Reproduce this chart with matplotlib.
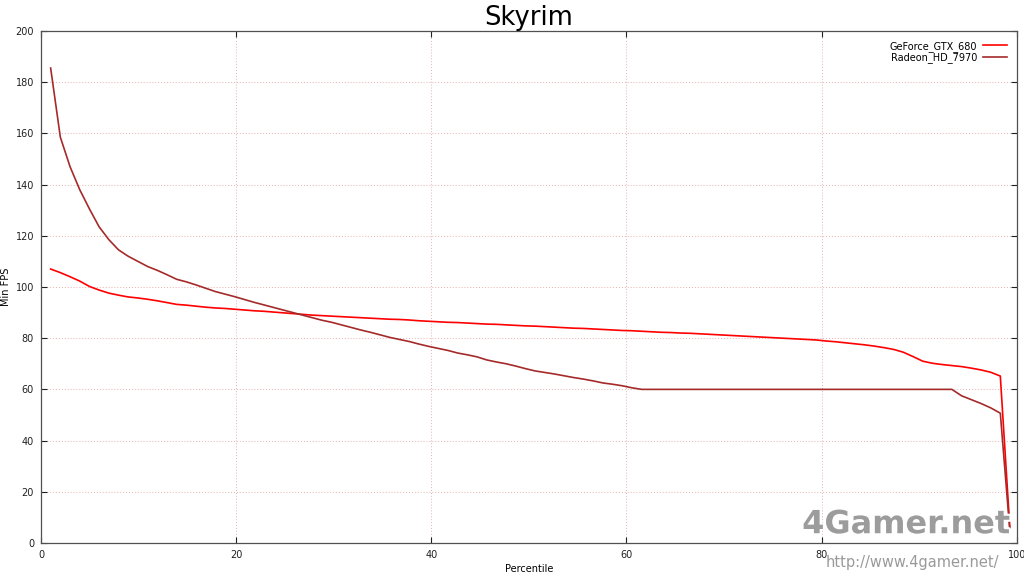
import numpy as np
import matplotlib
matplotlib.use('Agg')
import matplotlib.pyplot as plt
import matplotlib.patheffects as pe

plt.rcParams['font.family'] = ['DejaVu Sans']

# 百分位（第k个样本，图中横坐标略有压缩）
sample_idx = np.arange(1, 101)
percentile = sample_idx * 0.993

geforce_gtx_680 = [
    107.0, 105.6, 104.0, 102.3, 100.2, 98.8, 97.6, 96.8, 96.1, 95.7,
    95.2, 94.6, 93.9, 93.2, 92.9, 92.5, 92.1, 91.8, 91.6, 91.3,
    91.0, 90.7, 90.5, 90.2, 89.9, 89.6, 89.3, 89.0, 88.8, 88.6,
    88.4, 88.2, 88.0, 87.8, 87.6, 87.4, 87.3, 87.1, 86.8, 86.6,
    86.4, 86.2, 86.1, 85.9, 85.7, 85.5, 85.4, 85.2, 85.0, 84.8,
    84.7, 84.5, 84.3, 84.1, 83.9, 83.8, 83.6, 83.4, 83.2, 83.0,
    82.9, 82.7, 82.5, 82.3, 82.2, 82.0, 81.9, 81.7, 81.5, 81.3,
    81.1, 80.9, 80.7, 80.5, 80.3, 80.1, 79.9, 79.7, 79.5, 79.3,
    78.9, 78.6, 78.2, 77.8, 77.4, 76.9, 76.3, 75.6, 74.5, 72.8,
    71.0, 70.2, 69.7, 69.3, 68.9, 68.3, 67.6, 66.7, 65.2, 5.0,
]

radeon_hd_7970 = [
    185.5, 158.5, 147.0, 138.0, 130.5, 123.5, 118.5, 114.5, 112.0, 110.0,
    108.0, 106.5, 104.8, 103.0, 102.0, 100.8, 99.5, 98.2, 97.2, 96.2,
    95.1, 94.0, 93.0, 92.0, 91.0, 90.0, 89.0, 88.0, 87.0, 86.2,
    85.2, 84.2, 83.2, 82.3, 81.3, 80.3, 79.5, 78.7, 77.7, 76.8,
    76.0, 75.2, 74.2, 73.5, 72.7, 71.5, 70.7, 70.0, 69.1, 68.1,
    67.2, 66.6, 66.0, 65.3, 64.6, 64.0, 63.3, 62.5, 62.0, 61.4,
    60.6, 60.0, 60.0, 60.0, 60.0, 60.0, 60.0, 60.0, 60.0, 60.0,
    60.0, 60.0, 60.0, 60.0, 60.0, 60.0, 60.0, 60.0, 60.0, 60.0,
    60.0, 60.0, 60.0, 60.0, 60.0, 60.0, 60.0, 60.0, 60.0, 60.0,
    60.0, 60.0, 60.0, 60.0, 57.5, 56.0, 54.5, 52.8, 50.7, 4.0,
]

x_ticks = [0, 20, 40, 60, 80, 100]
y_ticks = [0, 20, 40, 60, 80, 100, 120, 140, 160, 180, 200]

fig = plt.figure(figsize=(10.24, 5.76), dpi=100)
ax = fig.add_axes([0.040, 0.0573, 0.953, 0.889])

ax.plot(percentile, geforce_gtx_680, color='#ff0000', linewidth=1.2, label='GeForce_GTX_680')
ax.plot(percentile, radeon_hd_7970, color='#a52a2a', linewidth=1.2, label='Radeon_HD_7970')

ax.set_xlim(0, 100)
ax.set_ylim(0, 200)
ax.set_xticks(x_ticks)
ax.set_yticks(y_ticks)
ax.tick_params(direction='in', length=4, width=0.8, labelsize=7, colors='#202020',
               top=True, right=True, labeltop=False, labelright=False, pad=5)
ax.grid(True, linestyle=(0, (1, 2)), color='#e8b0b0', linewidth=0.7)
for s in ax.spines.values():
    s.set_color('#505050')
    s.set_linewidth(0.9)

ax.set_title('Skyrim', fontsize=18.5, pad=4)
ax.set_xlabel('Percentile', fontsize=7, labelpad=3)
ax.set_ylabel('Min FPS', fontsize=7, labelpad=3)

ax.legend(loc='upper right', frameon=False, fontsize=7, markerfirst=False,
          handlelength=2.5, handletextpad=0.6, labelspacing=0.1,
          borderaxespad=0.6)

# 水印
fig.text(0.885, 0.089, '4Gamer.net', fontsize=23, fontweight='bold', color='#9c9c9c',
         ha='center', va='center',
         path_effects=[pe.withStroke(linewidth=3, foreground='white')])
fig.text(0.891, 0.024, 'http://www.4gamer.net/', fontsize=10.5, color='#9a9a9a',
         ha='center', va='center')

plt.savefig('out.png', dpi=100)
plt.close()
